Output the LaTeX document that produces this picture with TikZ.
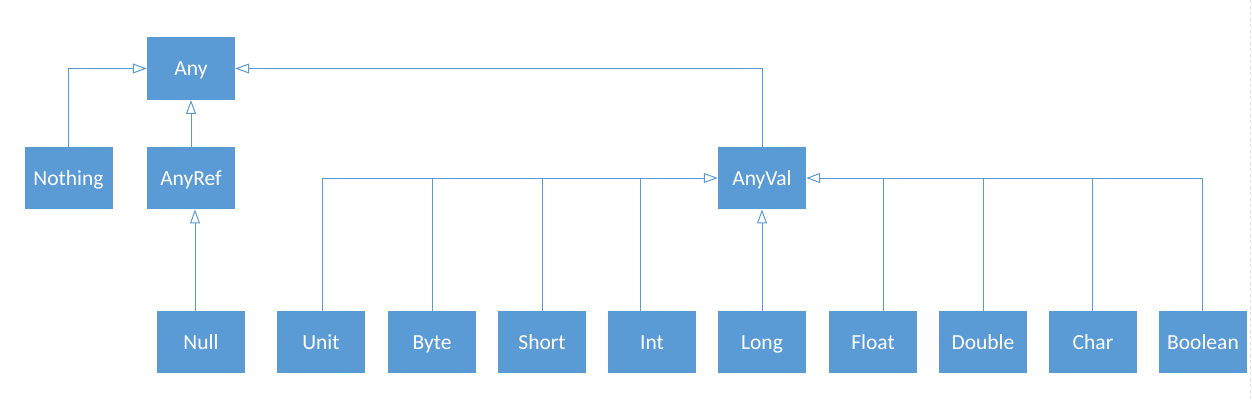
\documentclass[tikz,border=0pt]{standalone}
\usepackage{fontspec}
\setmainfont{Carlito}
\usetikzlibrary{arrows.meta}
\definecolor{officeblue}{HTML}{5B9BD5}
\tikzset{
  box/.style={fill=officeblue, draw=none, text=white, minimum width=88pt, minimum height=62.5pt, inner sep=0pt, text height=17pt, text depth=3pt, font=\fontsize{21.5pt}{25pt}\selectfont},
  conn/.style={draw=officeblue, line width=1pt},
  inh/.style={conn, -{Triangle[open, length=14pt, width=10pt, line width=1pt]}}
}
\begin{document}
\begin{tikzpicture}[x=1pt, y=-1pt]
\useasboundingbox (0,0) rectangle (1252,401);
\draw[gray!25, dashed, line width=1pt] (1250,0) -- (1250,401);
% top and middle
\node[box] (Any) at (191,68.5) {Any};
\node[box] (Nothing) at (68.5,178) {Nothing};
\node[box] (AnyRef) at (191,178) {AnyRef};
\node[box] (AnyVal) at (762,178) {AnyVal};
% bottom row
\node[box] (Null) at (201,342) {Null};
\node[box] (Unit) at (321,342) {Unit};
\node[box] (Byte) at (432,342) {Byte};
\node[box] (Short) at (542,342) {Short};
\node[box] (Int) at (652,342) {Int};
\node[box] (Long) at (762,342) {Long};
\node[box] (Float) at (873,342) {Float};
\node[box] (Double) at (983,342) {Double};
\node[box] (Char) at (1093,342) {Char};
\node[box] (Boolean) at (1203,342) {Boolean};
% connectors
\draw[inh] (Nothing.north) |- (Any.west);
\draw[inh] (AnyRef.north) -- (Any.south);
\draw[inh] (AnyVal.north) |- (Any.east);
\coordinate (nullT) at (195,311);
\draw[inh] (nullT) -- (nullT |- AnyRef.south);
\coordinate (unitT) at (322,311);
\coordinate (byteT) at (432,311);
\coordinate (shortT) at (542,311);
\coordinate (intT) at (640.5,311);
\coordinate (floatT) at (883,311);
\coordinate (doubleT) at (983,311);
\coordinate (charT) at (1092,311);
\coordinate (boolT) at (1202,311);
\draw[inh] (unitT) |- (AnyVal.west);
\draw[conn] (byteT) -- (byteT |- AnyVal.west);
\draw[conn] (shortT) -- (shortT |- AnyVal.west);
\draw[conn] (intT) -- (intT |- AnyVal.west);
\draw[inh] (boolT) |- (AnyVal.east);
\draw[conn] (floatT) -- (floatT |- AnyVal.east);
\draw[conn] (doubleT) -- (doubleT |- AnyVal.east);
\draw[conn] (charT) -- (charT |- AnyVal.east);
\draw[inh] (Long.north) -- (AnyVal.south);
\end{tikzpicture}
\end{document}
